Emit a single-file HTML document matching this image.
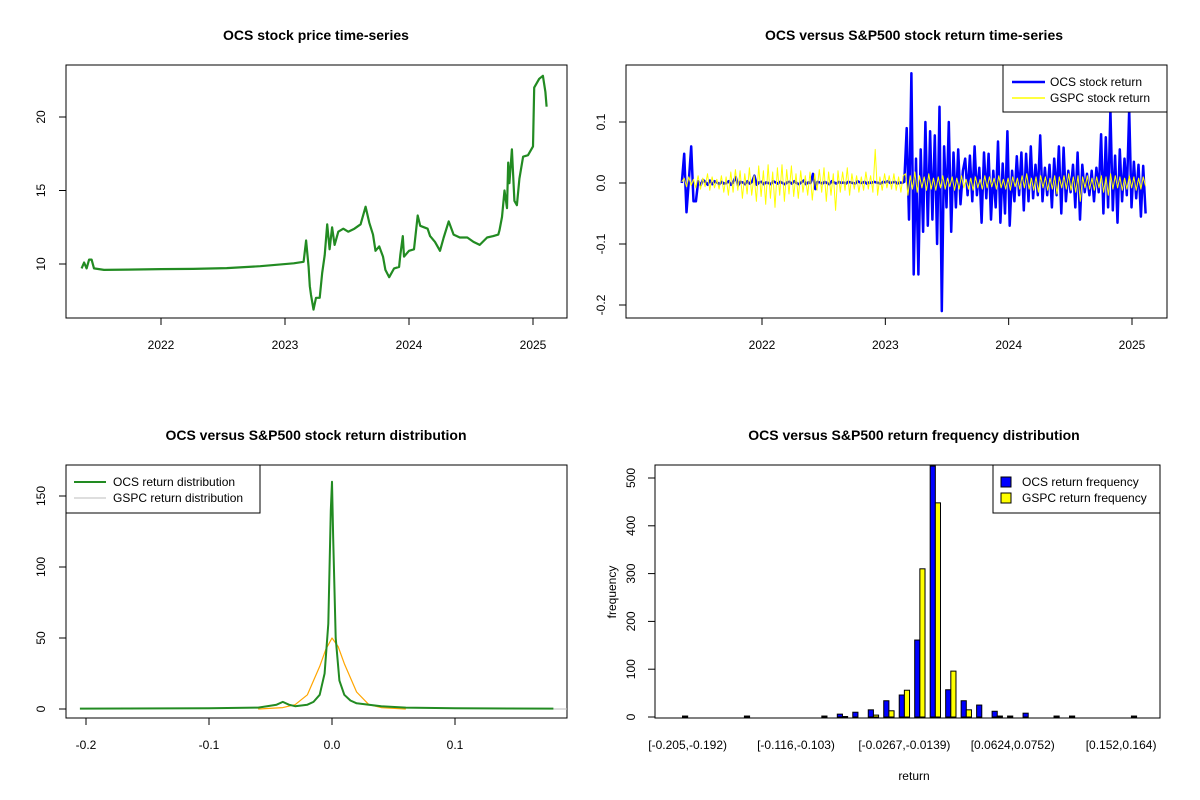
<!DOCTYPE html>
<html><head><meta charset="utf-8">
<style>
body{margin:0;background:#fff;}
svg{display:block;font-family:"Liberation Sans",Arial,sans-serif;}
</style></head>
<body>
<svg id="chart" width="1200" height="800" viewBox="0 0 1200 800">
<rect width="1200" height="800" fill="#fff"/>
</svg>
<script>
// ---------- DATA ----------
const priceDates=[2021.36,2021.38,2021.40,2021.42,2021.44,2021.46,2021.54,2021.73,2022.0,2022.26,2022.53,2022.8,2023.07,2023.15,2023.17,2023.19,2023.2,2023.21,2023.23,2023.25,2023.28,2023.3,2023.32,2023.34,2023.36,2023.38,2023.4,2023.43,2023.47,2023.51,2023.56,2023.61,2023.65,2023.68,2023.71,2023.73,2023.76,2023.79,2023.81,2023.84,2023.88,2023.92,2023.93,2023.95,2023.96,2024.0,2024.04,2024.07,2024.09,2024.15,2024.17,2024.21,2024.25,2024.28,2024.32,2024.36,2024.41,2024.47,2024.52,2024.57,2024.63,2024.68,2024.72,2024.73,2024.75,2024.77,2024.79,2024.8,2024.81,2024.83,2024.85,2024.87,2024.89,2024.92,2024.96,2025.0,2025.01,2025.05,2025.08,2025.1,2025.11];
const priceValues=[9.7,10.1,9.7,10.3,10.3,9.7,9.6,9.62,9.65,9.67,9.72,9.85,10.05,10.15,11.6,9.8,8.5,7.9,6.9,7.7,7.7,9.4,10.6,12.7,11.0,12.5,11.3,12.2,12.4,12.2,12.4,12.7,13.9,12.8,12.0,10.9,11.2,10.5,9.6,9.1,9.7,9.8,10.6,11.9,10.5,10.9,11.0,13.3,12.6,12.4,11.9,11.5,10.9,11.8,12.9,12.0,11.8,11.8,11.5,11.3,11.8,11.9,12.0,12.3,13.2,15.0,13.8,16.9,15.5,17.8,14.3,14.0,15.8,17.3,17.4,18.0,22.0,22.6,22.8,21.7,20.7];

const ocsReturns=[0,0.048,-0.048,0.005,0.06,-0.03,-0.03,0.003,-0.004,0.005,0.002,-0.003,0.004,-0.002,0.003,0.001,-0.002,0.002,-0.001,0,0.003,-0.003,0.002,0.01,-0.004,0.002,0.001,-0.002,0.003,-0.001,0.002,0.012,-0.003,0.001,0.002,-0.002,0.001,0,-0.002,0.003,0.001,-0.001,0.002,0,-0.002,0.001,0.002,-0.001,0.003,0,-0.002,0.001,0.004,-0.002,0.001,0,0.015,-0.01,0.002,0.001,-0.001,0.002,0,-0.002,0.003,0.001,-0.001,0.002,0,0.001,-0.001,0.002,0.001,0,-0.001,0.003,0.001,0,0.002,-0.001,0.001,0,0.002,0.001,0,-0.001,0.002,0.001,0.003,0,0.001,0.002,-0.001,0.001,0,0.002,
0.09,-0.06,0.18,-0.15,0.04,-0.15,0.055,-0.08,0.1,-0.07,0.085,-0.06,0.078,-0.1,0.125,-0.21,0.06,-0.04,0.1,-0.08,0.05,-0.04,0.055,-0.035,0.02,0.04,-0.02,0.045,-0.03,0.06,-0.02,0.025,-0.065,0.05,-0.025,0.048,-0.06,0.02,-0.04,0.068,-0.065,0.032,-0.05,0.085,-0.07,0.02,-0.03,0.044,-0.02,0.05,-0.045,0.048,-0.03,0.06,-0.025,0.03,-0.02,0.078,-0.03,0.025,-0.02,0.03,-0.04,0.04,-0.02,0.06,-0.05,0.058,-0.03,0.02,-0.015,0.03,-0.04,0.05,-0.06,0.03,-0.015,0.015,-0.02,0.02,-0.03,0.025,-0.015,0.08,-0.05,0.075,-0.04,0.12,-0.045,0.045,-0.065,0.055,-0.03,0.04,-0.02,0.12,-0.04,0.035,-0.025,0.03,-0.055,0.028,-0.05];
const gspcReturns=[0.002,0.008,-0.006,0.01,-0.004,0.006,-0.008,0.012,-0.01,0.008,-0.006,0.015,-0.012,0.01,-0.008,0.006,-0.01,0.012,-0.015,0.01,-0.02,0.018,-0.015,0.022,-0.012,0.02,-0.025,0.015,-0.018,0.025,-0.02,0.012,-0.03,0.028,-0.022,0.02,-0.035,0.03,-0.025,0.018,-0.04,0.025,-0.02,0.03,-0.03,0.022,-0.018,0.028,-0.022,0.015,-0.025,0.02,-0.015,0.012,-0.02,0.018,-0.028,0.015,-0.012,0.022,-0.015,0.025,-0.03,0.018,-0.02,0.015,-0.045,0.02,-0.015,0.018,-0.012,0.025,-0.02,0.015,-0.01,0.012,-0.015,0.01,-0.012,0.018,-0.01,0.012,-0.015,0.055,-0.02,0.01,-0.012,0.015,-0.008,0.012,-0.01,0.015,-0.012,0.01,-0.015,0.012,
0.015,-0.02,0.012,-0.01,0.018,-0.015,0.012,-0.008,0.01,-0.012,0.015,-0.01,0.008,-0.012,0.01,-0.008,0.012,-0.01,0.008,-0.006,0.01,-0.012,0.008,-0.01,0.012,-0.008,0.006,-0.01,0.008,-0.012,0.01,-0.008,0.006,-0.01,0.012,-0.008,0.01,-0.006,0.008,-0.01,0.012,-0.008,0.006,-0.01,0.008,-0.012,0.01,-0.006,0.008,-0.01,0.012,-0.008,0.015,-0.01,0.008,-0.012,0.01,-0.015,0.012,-0.008,0.01,-0.012,0.008,-0.01,0.012,-0.018,0.01,-0.008,0.012,-0.01,0.015,-0.012,0.01,-0.015,0.012,-0.03,0.01,-0.008,0.012,-0.01,0.008,-0.012,0.01,-0.008,0.012,-0.015,0.01,-0.02,0.015,-0.01,0.012,-0.008,0.01,-0.012,0.008,-0.01,0.012,-0.008,0.01,-0.012,0.008,-0.01,0.01,-0.005];

const ocsDensX=[-0.205,-0.1,-0.06,-0.045,-0.04,-0.035,-0.03,-0.02,-0.015,-0.01,-0.006,-0.003,-0.001,0,0.001,0.003,0.006,0.01,0.015,0.02,0.03,0.04,0.06,0.1,0.18];
const ocsDensY=[0.3,0.5,1,3,5,3,2,3,5,10,25,60,140,160,120,50,20,10,6,4,3,2,1,0.5,0.3];
const gspcDensX=[-0.06,-0.04,-0.03,-0.02,-0.01,-0.005,0,0.005,0.01,0.02,0.03,0.04,0.06];
const gspcDensY=[0,1,3,10,30,42,50,44,32,12,3,1,0];

const binLabels=["[-0.205,-0.192)","[-0.116,-0.103)","[-0.0267,-0.0139)","[0.0624,0.0752)","[0.152,0.164)"];
const binLabelIdx=[0,7,14,21,28];
const ocsFreq=[2,0,0,0,2,0,0,0,0,2,6,10,15,34,46,161,525,57,34,25,12,2,8,0,2,2,0,0,0,2];
const gspcFreq=[0,0,0,0,0,0,0,0,0,0,1,0,4,13,56,310,448,96,15,0,2,0,0,0,0,0,0,0,0,0];

// ---------- HELPERS ----------
const svg=document.getElementById('chart');
const NS='http://www.w3.org/2000/svg';
function mk(tag,attrs,parent){const e=document.createElementNS(NS,tag);for(const k in attrs)e.setAttribute(k,attrs[k]);(parent||svg).appendChild(e);return e;}
function txt(s,x,y,size,opts){const e=mk('text',Object.assign({x:x,y:y,'font-size':size,'text-anchor':'middle',fill:'#000'},opts||{}));e.textContent=s;return e;}
function lin(a,b,c,d,p){return v=>c+(v-a)*(d-c)/(b-a);}
function polyline(xs,ys,fx,fy,stroke,w){return mk('polyline',{points:xs.map((x,i)=>fx(x).toFixed(1)+','+fy(ys[i]).toFixed(1)).join(' '),fill:'none',stroke:stroke,'stroke-width':w,'stroke-linejoin':'round'});}

// ---------- PANEL 1 ----------
{
const fx=lin(2022,2025,161,533), fy=lin(10,20,264,117);
let b=mk('rect',{x:66,y:65,width:501,height:253,fill:'none',stroke:'#000'});

let t=txt('OCS stock price time-series',316,40,14,{'font-weight':'bold'});

[10,15,20].forEach(v=>{mk('line',{x1:59,x2:66,y1:fy(v),y2:fy(v),stroke:'#000'});
 const l=txt(v,0,0,12,{transform:`translate(45,${fy(v)}) rotate(-90)`});
 });
[2022,2023,2024,2025].forEach(v=>{mk('line',{x1:fx(v),x2:fx(v),y1:318,y2:325,stroke:'#000'});
 const l=txt(v,fx(v),349,12);});
const p=polyline(priceDates,priceValues,fx,fy,'#228B22',2.2);

}

// ---------- PANEL 2 ----------
{
const fx=lin(2022,2025,762,1132), fy=lin(0,0.1,183,122);
const d0=2021.35,d1=2025.11;
let b=mk('rect',{x:626,y:65,width:541,height:253,fill:'none',stroke:'#000'});

let t=txt('OCS versus S&P500 stock return time-series',914,40,14,{'font-weight':'bold'});

[-0.2,-0.1,0,0.1].forEach(v=>{mk('line',{x1:619,x2:626,y1:fy(v),y2:fy(v),stroke:'#000'});
 const l=txt(v.toFixed(1),0,0,12,{transform:`translate(605,${fy(v)}) rotate(-90)`});
 });
[2022,2023,2024,2025].forEach(v=>{mk('line',{x1:fx(v),x2:fx(v),y1:318,y2:325,stroke:'#000'});
 const l=txt(v,fx(v),349,12);});
const dx=ocsReturns.map((_,i)=>d0+i*(d1-d0)/(ocsReturns.length-1));
const p=polyline(dx,ocsReturns,fx,fy,'#0000FF',2.5);

const gx=gspcReturns.map((_,i)=>d0+i*(d1-d0)/(gspcReturns.length-1));
const q=polyline(gx,gspcReturns,fx,fy,'#FFFF00',1);

const lg=mk('g',{});
mk('rect',{x:1003,y:65,width:164,height:47,fill:'#fff',stroke:'#000'},lg);
mk('line',{x1:1012,x2:1045,y1:82,y2:82,stroke:'#0000FF','stroke-width':2.5},lg);
mk('line',{x1:1012,x2:1045,y1:98,y2:98,stroke:'#FFFF00','stroke-width':1.5},lg);
lg.appendChild(txt('OCS stock return',1050,86,12,{'text-anchor':'start'}));
lg.appendChild(txt('GSPC stock return',1050,102,12,{'text-anchor':'start'}));
}

// ---------- PANEL 3 ----------
{
const fx=lin(-0.2,0.1,86,455), fy=lin(0,150,709,496);
let b=mk('rect',{x:66,y:465,width:501,height:253,fill:'none',stroke:'#000'});

let t=txt('OCS versus S&P500 stock return distribution',316,440,14,{'font-weight':'bold'});

[0,50,100,150].forEach(v=>{mk('line',{x1:59,x2:66,y1:fy(v),y2:fy(v),stroke:'#000'});
 const l=txt(v,0,0,12,{transform:`translate(45,${fy(v)}) rotate(-90)`});
 });
[-0.2,-0.1,0,0.1].forEach(v=>{mk('line',{x1:fx(v),x2:fx(v),y1:718,y2:725,stroke:'#000'});
 const l=txt(v.toFixed(1),fx(v),749,12);});
let g=mk('line',{x1:fx(0.17),x2:567,y1:fy(0),y2:fy(0),stroke:'#BEBEBE'});

const q=polyline(gspcDensX,gspcDensY,fx,fy,'#FFA500',1.2);

const p=polyline(ocsDensX,ocsDensY,fx,fy,'#228B22',2);

const lg=mk('g',{});
mk('rect',{x:66,y:465,width:194,height:48,fill:'#fff',stroke:'#000'},lg);
mk('line',{x1:74,x2:106,y1:482,y2:482,stroke:'#228B22','stroke-width':2},lg);
mk('line',{x1:74,x2:106,y1:498,y2:498,stroke:'#BEBEBE','stroke-width':1},lg);
lg.appendChild(txt('OCS return distribution',113,486,12,{'text-anchor':'start'}));
lg.appendChild(txt('GSPC return distribution',113,502,12,{'text-anchor':'start'}));
}

// ---------- PANEL 4 ----------
{
const fy=lin(0,500,717,478);
const unit=5.16, x0=682.5, step=15.48;
let b=mk('rect',{x:655,y:465,width:505,height:253,fill:'none',stroke:'#000'});

let t=txt('OCS versus S&P500 return frequency distribution',914,440,14,{'font-weight':'bold'});

[0,100,200,300,400,500].forEach(v=>{mk('line',{x1:648,x2:655,y1:fy(v),y2:fy(v),stroke:'#000'});
 const l=txt(v,0,0,12,{transform:`translate(635,${fy(v)}) rotate(-90)`});
 });
ocsFreq.forEach((v,i)=>{const r=mk('rect',{x:x0+i*step,y:Math.max(465,fy(v)),width:unit,height:fy(0)-Math.max(465,fy(v)),fill:'#0000FF',stroke:'#000','stroke-width':1});
 });
gspcFreq.forEach((v,i)=>{const r=mk('rect',{x:x0+i*step+unit,y:fy(v),width:unit,height:fy(0)-fy(v),fill:'#FFFF00',stroke:'#000','stroke-width':1});
 });
binLabelIdx.forEach((bi,k)=>{const l=txt(binLabels[k],x0+bi*step+unit,749,12);
 });
let xl=txt('return',914,780,12);
let yl=txt('frequency',0,0,12,{transform:'translate(616,592) rotate(-90)'});
const lg=mk('g',{});
mk('rect',{x:993,y:465,width:167,height:48,fill:'#fff',stroke:'#000'},lg);
mk('rect',{x:1001,y:477,width:10,height:10,fill:'#0000FF',stroke:'#000'},lg);
mk('rect',{x:1001,y:493,width:10,height:10,fill:'#FFFF00',stroke:'#000'},lg);
lg.appendChild(txt('OCS return frequency',1022,486,12,{'text-anchor':'start'}));
lg.appendChild(txt('GSPC return frequency',1022,502,12,{'text-anchor':'start'}));
}
</script>
</body></html>
